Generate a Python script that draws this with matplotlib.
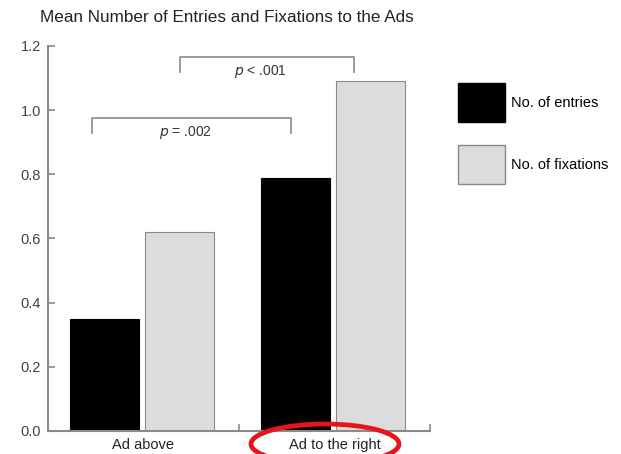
import matplotlib
matplotlib.use('Agg')
import matplotlib.pyplot as plt
from matplotlib.patches import Ellipse, Patch
import numpy as np

plt.rcParams['font.family'] = ['Liberation Sans', 'DejaVu Sans']

categories = ['Ad above', 'Ad to the right']
entries = [0.35, 0.79]
fixations = [0.62, 1.09]
series_labels = ['No. of entries', 'No. of fixations']
# comparison brackets: (x_start, x_end, y_top, text)
brackets = [(0.23, 1.27, 0.975, '= .002'), (0.69, 1.60, 1.165, '< .001')]

AXIS = '#8a8a8a'
GRAY = '#dcdcdc'

fig = plt.figure(figsize=(6.21, 4.54), dpi=100)
ax = fig.add_axes([48/621, 23/454, 382/621, 385/454])

g = np.arange(len(categories))
w = 0.36
ax.bar(g + 0.295, entries, w, color='black', edgecolor='black', linewidth=0.8)
ax.bar(g + 0.69, fixations, w, color=GRAY, edgecolor=AXIS, linewidth=0.8)

ax.set_xlim(0, 2)
ax.set_ylim(0, 1.2)
ax.set_yticks(np.arange(0, 1.21, 0.2))
ax.set_yticklabels(['%.1f' % v for v in np.arange(0, 1.21, 0.2)])
ax.set_xticks(g + 0.5)
ax.set_xticklabels(categories)
ax.set_xticks(g + 1, minor=True)
ax.tick_params(axis='x', which='major', length=0, pad=5, labelsize=10.5, colors='#222222')
ax.tick_params(axis='x', which='minor', direction='in', length=5, color=AXIS, width=1.2)
ax.tick_params(axis='y', direction='in', length=5, color=AXIS, width=1.2, labelsize=10.5,
               labelcolor='#444444', pad=5)
for s in ['top', 'right']:
    ax.spines[s].set_visible(False)
for s in ['left', 'bottom']:
    ax.spines[s].set_color(AXIS)
    ax.spines[s].set_linewidth(1.5)

for x0, x1, y, txt in brackets:
    ax.plot([x0, x0, x1, x1], [y - 0.045, y, y, y - 0.045], color=AXIS, lw=1.2,
            clip_on=False)
    ax.text((x0 + x1) / 2 - 0.03, y - 0.045, '$p$ ' + txt, ha='center', va='center',
            fontsize=10, color='#333333')

handles = [Patch(facecolor='black', edgecolor='black'),
           Patch(facecolor=GRAY, edgecolor=AXIS)]
fig.legend(handles, series_labels, loc='upper left', bbox_to_anchor=(458/621, 1 - 83/454),
           frameon=False, fontsize=10.5, handlelength=3.2, handleheight=3.74,
           labelspacing=1.58, handletextpad=0.45, borderpad=0, borderaxespad=0)

fig.text(40/621, 1 - 17/454, 'Mean Number of Entries and Fixations to the Ads',
         ha='left', va='center', fontsize=12.3, color='#222222')

fig.add_artist(Ellipse((325/621, 1 - 444/454), 148/621, 40/454,
                       transform=fig.transFigure, fill=False, edgecolor='#e8141b', lw=3.4))

fig.savefig('out.png', dpi=100)
